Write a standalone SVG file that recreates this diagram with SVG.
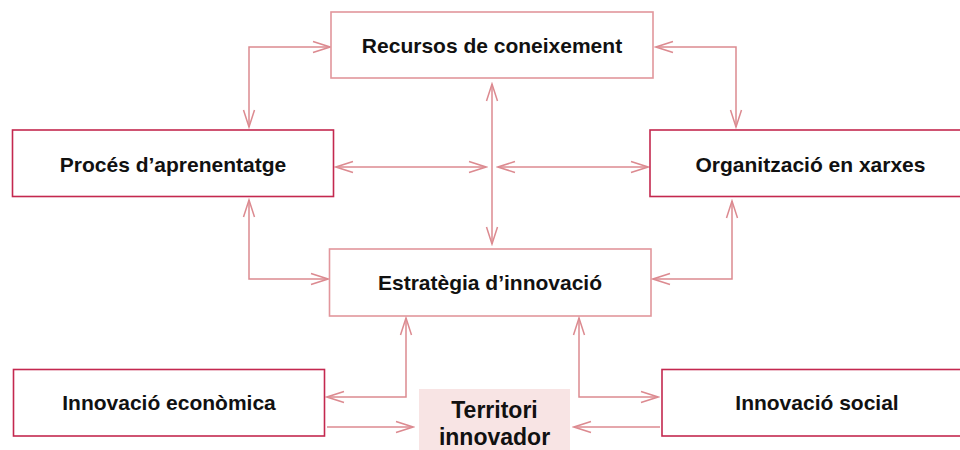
<svg xmlns="http://www.w3.org/2000/svg" width="960" height="450" viewBox="0 0 960 450">
  <style>
    .dark { fill: #ffffff; stroke: #c4284f; stroke-width: 1.6; }
    .light { fill: #ffffff; stroke: #e2969c; stroke-width: 1.6; }
    .terr { fill: #f8e4e4; stroke: none; }
    .lbl { font-family: "Liberation Sans", Arial, sans-serif; font-weight: bold; font-size: 21px; fill: #111111; text-anchor: middle; }
    .big { font-family: "Liberation Sans", Arial, sans-serif; font-weight: bold; font-size: 23px; fill: #111111; text-anchor: middle; }
    .conn path { fill: none; stroke: #dc8a90; stroke-width: 1.5; }
    .ah { fill: none; stroke: #dc8a90; stroke-width: 1.5; }
  </style>
  <defs>
    <marker id="arr" markerUnits="userSpaceOnUse" viewBox="-19 -8 21 16" refX="0" refY="0" markerWidth="21" markerHeight="16" orient="auto-start-reverse">
      <path class="ah" d="M-17,-5.5 L0,0 L-17,5.5"/>
    </marker>
  </defs>

  <g id="connectors" class="conn">
    <path d="M249,127 V47 H330" marker-start="url(#arr)" marker-end="url(#arr)"/>
    <path d="M656,47 H736 V127" marker-start="url(#arr)" marker-end="url(#arr)"/>
    <path d="M336,167 H486" marker-start="url(#arr)" marker-end="url(#arr)"/>
    <path d="M498,167 H648" marker-start="url(#arr)" marker-end="url(#arr)"/>
    <path d="M492,84 V244" marker-start="url(#arr)" marker-end="url(#arr)"/>
    <path d="M249,200 V279 H328" marker-start="url(#arr)" marker-end="url(#arr)"/>
    <path d="M732,201 V279 H653" marker-start="url(#arr)" marker-end="url(#arr)"/>
    <path d="M406,318 V397 H327" marker-start="url(#arr)" marker-end="url(#arr)"/>
    <path d="M579,318 V397 H658" marker-start="url(#arr)" marker-end="url(#arr)"/>
    <path d="M327,427 H413" marker-end="url(#arr)"/>
    <path d="M660,427 H574" marker-end="url(#arr)"/>
  </g>

  <g id="recursos">
    <rect class="light" x="331" y="12" width="322" height="66"/>
    <text class="lbl" x="492" y="53">Recursos de coneixement</text>
  </g>
  <g id="proces">
    <rect class="dark" x="12.5" y="130" width="321" height="66.5"/>
    <text class="lbl" x="173" y="171.5">Procés d’aprenentatge</text>
  </g>
  <g id="organitzacio">
    <rect class="dark" x="650" y="130" width="330" height="66.5"/>
    <text class="lbl" x="810.5" y="171.5">Organització en xarxes</text>
  </g>
  <g id="estrategia">
    <rect class="light" x="329.5" y="249" width="321.5" height="67"/>
    <text class="lbl" x="490" y="290">Estratègia d’innovació</text>
  </g>
  <g id="innovacio-economica">
    <rect class="dark" x="13.5" y="369.5" width="311" height="66.5"/>
    <text class="lbl" x="169" y="410">Innovació econòmica</text>
  </g>
  <g id="innovacio-social">
    <rect class="dark" x="662" y="369.5" width="320" height="66.5"/>
    <text class="lbl" x="817" y="410">Innovació social</text>
  </g>
  <g id="territori">
    <rect class="terr" x="419" y="389" width="151" height="70"/>
    <text class="big" x="494.5" y="418">Territori</text>
    <text class="big" x="494.5" y="445">innovador</text>
  </g>
</svg>
